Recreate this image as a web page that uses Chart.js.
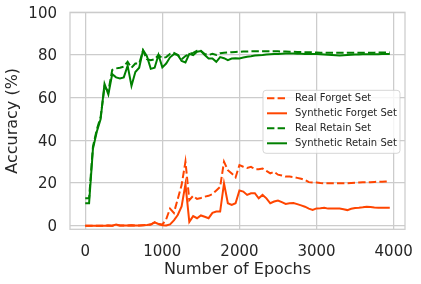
<!DOCTYPE html>
<html><head><meta charset="utf-8">
<script src="https://cdn.jsdelivr.net/npm/chart.js@4.4.1/dist/chart.umd.min.js"></script>
<style>html,body{margin:0;padding:0;background:#fff;} canvas{display:block;}</style>
</head><body>
<canvas id="c" width="421" height="284"></canvas>
<script>
const epochs = [0, 50, 100, 150, 200, 250, 300, 350, 400, 450,
  500, 550, 600, 650, 700, 750, 800, 850, 900, 950,
  1000, 1050, 1100, 1150, 1200, 1250, 1300, 1350, 1400, 1450,
  1500, 1550, 1600, 1650, 1700, 1750, 1800, 1850, 1900, 1950,
  2000, 2050, 2100, 2150, 2200, 2250, 2300, 2350, 2400, 2450,
  2500, 2550, 2600, 2650, 2700, 2750, 2800, 2850, 2900, 2950,
  3000, 3050, 3100, 3150, 3200, 3250, 3300, 3350, 3400, 3450,
  3500, 3550, 3600, 3650, 3700, 3750, 3800, 3850, 3900, 3950];

const xTickValues = [0, 1000, 2000, 3000, 4000];
const yTickValues = [0, 20, 40, 60, 80, 100];

const realForget = [0, 0, 0, 0, 0, 0, 0.1, 0, 0.4, 0.1,
  0.1, 0.1, 0.2, 0.1, 0.1, 0.2, 0.3, 0.5, 1.5, 0.8,
  0.5, 3, 8, 6, 12.5, 19, 30, 12, 14, 12.5,
  13, 13.6, 14, 14.8, 16.5, 18.2, 30, 26, 24.5, 22.6,
  28.4, 27.6, 27, 27.6, 26.5, 26.5, 26.8, 25.7, 24.5, 25.3,
  23.9, 23.5, 23, 23, 22.8, 22.4, 22, 21.5, 20.4, 20.2,
  20.2, 20, 19.9, 19.9, 19.9, 19.9, 19.9, 19.9, 19.9, 20,
  20.1, 20.2, 20.3, 20.3, 20.4, 20.5, 20.6, 20.6, 20.7, 20.8];

const synthForget = [0, 0, 0, 0, 0, 0, 0.1, 0, 0.5, 0.1,
  0.1, 0.1, 0.2, 0.1, 0.1, 0.2, 0.3, 0.5, 1.6, 0.8,
  0.2, 0.1, 0.6, 2.5, 5, 9, 19.5, 1.8, 4.5, 3.5,
  4.8, 4.2, 3.5, 6, 6.6, 6.6, 19.8, 10.5, 9.7, 10.5,
  16.5, 16, 14.4, 15.2, 15.2, 12.8, 14.4, 12.8, 10.5, 11.3,
  11.8, 11, 10.2, 10.5, 10.6, 10.1, 9.5, 8.9, 8, 7.4,
  8.1, 8.2, 8.4, 8, 8, 8, 8, 7.7, 7.3, 7.9,
  8.3, 8.4, 8.6, 8.9, 8.7, 8.5, 8.4, 8.4, 8.4, 8.4];

const realRetain = [12.8, 12.8, 37, 45, 51, 65, 63, 73, 73.7, 74,
  74.5, 76.8, 74, 76, 76, 82, 78, 77.5, 78, 80,
  78.5, 79, 80.5, 81, 80, 78, 79.5, 80.5, 81, 82,
  82, 80.5, 80, 80.5, 80, 80.8, 81, 81.2, 81.3, 81.4,
  81.5, 81.6, 81.6, 81.7, 81.7, 81.7, 81.7, 81.7, 81.7, 81.7,
  81.7, 81.6, 81.6, 81.5, 81.5, 81.4, 81.4, 81.3, 81.3, 81.2,
  81.2, 81.1, 81.1, 81, 81, 81, 81, 81, 81, 81,
  81, 81, 81.1, 81.1, 81.1, 81.1, 81.2, 81.2, 81.2, 81.2];

const synthRetain = [10.5, 10.5, 36, 44, 50, 66.5, 61.5, 71, 69.5, 69,
  69.5, 75, 65.5, 72, 74, 82.3, 79.4, 73.5, 74, 80,
  74.2, 76, 78.9, 80.4, 80, 77.2, 76.5, 80.5, 79.9, 81.5,
  81.8, 80, 78.4, 78.4, 76.8, 79, 78.5, 77.6, 78.3, 78.5,
  78.4, 78.8, 79.2, 79.4, 79.7, 79.9, 80, 80.2, 80.3, 80.4,
  80.5, 80.6, 80.7, 80.7, 80.7, 80.6, 80.6, 80.5, 80.5, 80.4,
  80.4, 80.3, 80.2, 80.1, 80, 79.9, 79.8, 79.9, 80, 80.1,
  80.2, 80.2, 80.3, 80.3, 80.3, 80.3, 80.3, 80.4, 80.4, 80.4];

const seriesLabels = ['Real Forget Set', 'Synthetic Forget Set', 'Real Retain Set', 'Synthetic Retain Set'];

const ORANGE = '#ff4500', GREEN = '#008000', TEXT = '#262626', GRID = '#cccccc';
const DASH = [7.4, 3.2];
const FAMILY = '"DejaVu Sans", "Liberation Sans", sans-serif';

const pts = arr => epochs.map((e, i) => ({x: e, y: arr[i]}));

const frame = {
  id: 'frame',
  beforeDatasetsDraw(chart) {
    const {ctx, chartArea: a} = chart;
    ctx.save();
    ctx.strokeStyle = GRID;
    ctx.lineWidth = 1.25;
    ctx.strokeRect(a.left, a.top, a.right - a.left, a.bottom - a.top);
    ctx.restore();
  }
};

const boxLegend = {
  id: 'boxLegend',
  afterDatasetsDraw(chart) {
    const ctx = chart.ctx, a = chart.chartArea;
    const x0 = a.right - 142, y0 = a.top + 78, w = 137, h = 63, r = 3;
    ctx.save();
    ctx.beginPath();
    ctx.moveTo(x0 + r, y0);
    ctx.lineTo(x0 + w - r, y0);
    ctx.quadraticCurveTo(x0 + w, y0, x0 + w, y0 + r);
    ctx.lineTo(x0 + w, y0 + h - r);
    ctx.quadraticCurveTo(x0 + w, y0 + h, x0 + w - r, y0 + h);
    ctx.lineTo(x0 + r, y0 + h);
    ctx.quadraticCurveTo(x0, y0 + h, x0, y0 + h - r);
    ctx.lineTo(x0, y0 + r);
    ctx.quadraticCurveTo(x0, y0, x0 + r, y0);
    ctx.closePath();
    ctx.fillStyle = 'rgba(255,255,255,0.8)';
    ctx.fill();
    ctx.strokeStyle = 'rgba(204,204,204,0.8)';
    ctx.lineWidth = 1;
    ctx.stroke();
    ctx.font = '10px ' + FAMILY;
    ctx.textBaseline = 'middle';
    ctx.textAlign = 'left';
    chart.data.datasets.forEach((ds, i) => {
      const y = y0 + 8 + i * 15;
      ctx.beginPath();
      ctx.setLineDash(ds.borderDash || []);
      ctx.strokeStyle = ds.borderColor;
      ctx.lineWidth = 2;
      ctx.moveTo(x0 + 4, y);
      ctx.lineTo(x0 + 24, y);
      ctx.stroke();
      ctx.setLineDash([]);
      ctx.fillStyle = TEXT;
      ctx.fillText(ds.label, x0 + 32, y);
    });
    ctx.restore();
  }
};

new Chart(document.getElementById('c'), {
  type: 'line',
  data: {
    datasets: [
      {label: seriesLabels[0], data: pts(realForget), borderColor: ORANGE, backgroundColor: ORANGE, borderDash: DASH, order: 4},
      {label: seriesLabels[1], data: pts(synthForget), borderColor: ORANGE, backgroundColor: ORANGE, order: 3},
      {label: seriesLabels[2], data: pts(realRetain), borderColor: GREEN, backgroundColor: GREEN, borderDash: DASH, order: 2},
      {label: seriesLabels[3], data: pts(synthRetain), borderColor: GREEN, backgroundColor: GREEN, order: 1}
    ]
  },
  options: {
    responsive: false,
    animation: false,
    devicePixelRatio: 1,
    layout: {padding: {top: 12.3, right: 16, left: 0, bottom: 0}},
    elements: {point: {radius: 0}, line: {borderWidth: 2, tension: 0, fill: false}},
    plugins: {legend: {display: false}, tooltip: {enabled: false}},
    scales: {
      x: {
        type: 'linear', min: -197.5, max: 4147.5,
        afterBuildTicks(s) { s.ticks = xTickValues.map(v => ({value: v})); },
        afterFit(s) { s.height = 54.7; s.paddingLeft = 0; s.paddingRight = 0; },
        ticks: {maxRotation: 0, autoSkip: false, padding: 14,
          font: {family: FAMILY, size: 15}, color: TEXT, callback: v => String(v)},
        grid: {color: GRID, lineWidth: 1.25, drawTicks: false},
        border: {display: false},
        title: {display: true, text: 'Number of Epochs', color: TEXT,
          font: {family: FAMILY, size: 16}, padding: {top: 0, bottom: 5}}
      },
      y: {
        min: -1.7, max: 100,
        afterBuildTicks(s) { s.ticks = yTickValues.map(v => ({value: v})); },
        afterFit(s) { s.width = 70; s.paddingTop = 0; s.paddingBottom = 0; },
        ticks: {autoSkip: false, padding: 13, labelOffset: 1.5,
          font: {family: FAMILY, size: 15}, color: TEXT, callback: v => String(v)},
        grid: {color: GRID, lineWidth: 1.25, drawTicks: false},
        border: {display: false},
        title: {display: true, text: 'Accuracy (%)', color: TEXT,
          font: {family: FAMILY, size: 16}, padding: {top: 3, bottom: 0}}
      }
    }
  },
  plugins: [frame, boxLegend]
});
</script>
</body></html>
